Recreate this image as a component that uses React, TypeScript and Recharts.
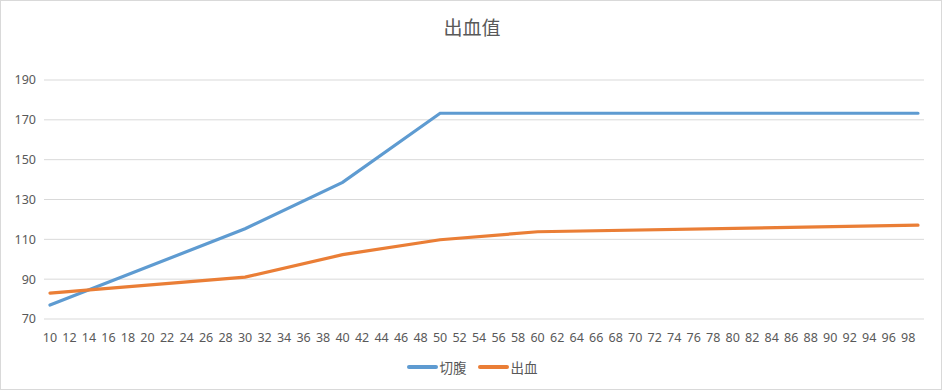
import React from 'react';
import { LineChart, Line, XAxis, YAxis, CartesianGrid } from 'recharts';

// x categories 10..99, labels shown every other one
const ages: number[] = [];
for (let a = 10; a <= 99; a++) ages.push(a);

// values at the kinks; gaps are bridged with connectNulls
const cutPoints: Record<number, number> = { 10: 77, 30: 115.3, 40: 138.6, 50: 173.3, 99: 173.3 };
const bleedPoints: Record<number, number> = { 10: 83, 30: 91, 40: 102.3, 50: 109.8, 60: 113.8, 99: 117.1 };

const yTicks = [70, 90, 110, 130, 150, 170, 190];

const seriesNames = { cut: '切腹', bleed: '出血' };
const colors = { cut: '#5E9BD1', bleed: '#EA7E36' };

const chartData = ages.map(a => ({
  age: a,
  cut: cutPoints[a] ?? null,
  bleed: bleedPoints[a] ?? null,
}));

const font = '"Noto Sans", "Noto Sans CJK SC", sans-serif';

const LegendItem = ({ color, label }: { color: string; label: string }) => (
  <div style={{ display: 'flex', alignItems: 'center', gap: 2 }}>
    <div style={{ width: 31, height: 4, borderRadius: 2, background: color }} />
    <span>{label}</span>
  </div>
);

export default function App() {
  return (
    <div
      style={{
        position: 'absolute', left: 0, top: 0, width: 942, height: 390,
        background: '#fff', border: '1px solid #d9d9d9', boxSizing: 'border-box',
        fontFamily: font, color: '#595959',
      }}
    >
      <div
        style={{
          position: 'absolute', top: 12, left: 0, width: 942, textAlign: 'center',
          fontSize: 19, fontFamily: '"Noto Sans CJK SC", sans-serif', color: '#595959',
        }}
      >
        出血值
      </div>
      <div style={{ position: 'absolute', left: -1, top: -1 }}>
        <LineChart width={942} height={390} data={chartData} margin={{ top: 80, right: 18, bottom: 41, left: 0 }}>
          <CartesianGrid vertical={false} stroke="#d9d9d9" />
          <XAxis
            dataKey="age"
            interval={1}
            axisLine={false}
            tickLine={false}
            tickMargin={8}
            padding={{ left: 6, right: 6 }}
            tick={{ fill: '#595959', fontSize: 12.5, fontFamily: font }}
            height={30}
          />
          <YAxis
            domain={[70, 190]}
            ticks={yTicks}
            axisLine={false}
            tickLine={false}
            tickMargin={2}
            width={44}
            tick={{ fill: '#595959', fontSize: 12.5, fontFamily: font }}
          />
          <Line
            type="linear"
            dataKey="cut"
            name={seriesNames.cut}
            stroke={colors.cut}
            strokeWidth={3.2}
            dot={false}
            connectNulls
            strokeLinecap="round"
            isAnimationActive={false}
          />
          <Line
            type="linear"
            dataKey="bleed"
            name={seriesNames.bleed}
            stroke={colors.bleed}
            strokeWidth={3.2}
            dot={false}
            connectNulls
            strokeLinecap="round"
            isAnimationActive={false}
          />
        </LineChart>
      </div>
      <div
        style={{
          position: 'absolute', top: 356, left: 0, width: 942, display: 'flex',
          justifyContent: 'center', gap: 11, fontSize: 13.5,
          fontFamily: '"Noto Sans CJK SC", sans-serif', color: '#595959',
        }}
      >
        <LegendItem color={colors.cut} label={seriesNames.cut} />
        <LegendItem color={colors.bleed} label={seriesNames.bleed} />
      </div>
    </div>
  );
}
